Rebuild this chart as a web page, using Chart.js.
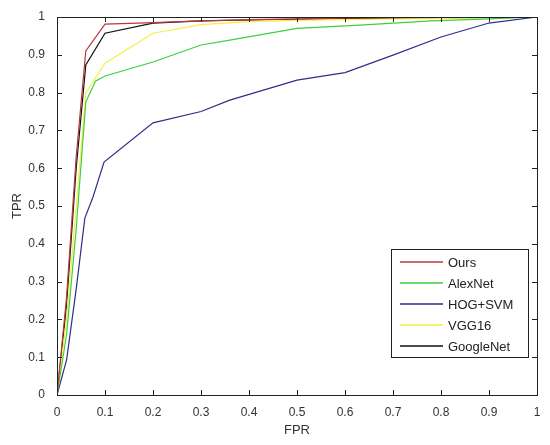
<!DOCTYPE html>
<html>
<head>
<meta charset="utf-8">
<script src="https://cdn.jsdelivr.net/npm/chart.js@4/dist/chart.umd.min.js"></script>
<style>
  html, body { margin: 0; padding: 0; background: #fff; }
  #wrap { width: 550px; height: 445px; position: relative; }
</style>
</head>
<body>
<div id="wrap"><canvas id="roc"></canvas></div>
<script>
// ROC curves (FPR, TPR)
const seriesNames = ['Ours', 'AlexNet', 'HOG+SVM', 'VGG16', 'GoogleNet'];
const seriesColors = ['#b8383c', '#3fcf3f', '#2e2e8c', '#f2f044', '#111111'];

const fprOurs = [0, 0.02, 0.04, 0.06, 0.1, 0.2, 0.3, 0.4, 0.5, 0.6, 0.7, 0.8, 0.9, 1];
const tprOurs = [0, 0.26, 0.63, 0.91, 0.981, 0.985, 0.99, 0.993, 0.995, 0.997, 0.998, 0.999, 0.999, 1];

const fprAlex = [0, 0.02, 0.04, 0.06, 0.08, 0.1, 0.2, 0.3, 0.36, 0.5, 0.64, 0.78, 0.9, 1];
const tprAlex = [0, 0.16, 0.44, 0.775, 0.83, 0.844, 0.881, 0.926, 0.939, 0.97, 0.979, 0.99, 0.995, 1];

const fprHog = [0, 0.02, 0.04, 0.058, 0.075, 0.098, 0.2, 0.3, 0.36, 0.5, 0.6, 0.7, 0.8, 0.9, 1];
const tprHog = [0, 0.093, 0.28, 0.468, 0.524, 0.616, 0.72, 0.75, 0.78, 0.833, 0.853, 0.899, 0.947, 0.984, 1];

const fprVgg = [0, 0.02, 0.04, 0.06, 0.1, 0.2, 0.3, 0.4, 0.5, 0.6, 0.7, 0.8, 0.9, 1];
const tprVgg = [0, 0.2, 0.5, 0.8, 0.878, 0.957, 0.98, 0.988, 0.991, 0.993, 0.995, 0.996, 0.998, 1];

const fprGoogle = [0, 0.02, 0.04, 0.06, 0.1, 0.2, 0.3, 0.4, 0.5, 0.6, 0.7, 0.8, 0.9, 1];
const tprGoogle = [0, 0.24, 0.6, 0.873, 0.957, 0.984, 0.99, 0.992, 0.994, 0.996, 0.997, 0.998, 0.999, 1];

const xTicks = [0, 0.1, 0.2, 0.3, 0.4, 0.5, 0.6, 0.7, 0.8, 0.9, 1];
const yTicks = [0, 0.1, 0.2, 0.3, 0.4, 0.5, 0.6, 0.7, 0.8, 0.9, 1];

const allFpr = [fprOurs, fprAlex, fprHog, fprVgg, fprGoogle];
const allTpr = [tprOurs, tprAlex, tprHog, tprVgg, tprGoogle];

function pts(xs, ys) {
  return xs.map((x, i) => ({x: x, y: ys[i]}));
}

const FONT = '"Liberation Sans", Arial, sans-serif';

// matlab-ish box with inward ticks, axis titles and legend
const matlabAxes = {
  id: 'matlabAxes',
  afterDatasetsDraw(chart) {
    const c = chart.ctx;
    const a = chart.chartArea;
    const xs = chart.scales.x, ys = chart.scales.y;
    c.save();
    c.strokeStyle = '#222';
    c.lineWidth = 1;
    c.strokeRect(Math.round(a.left) + 0.5, Math.round(a.top) + 0.5,
                 Math.round(a.right - a.left), Math.round(a.bottom - a.top));
    c.beginPath();
    for (const t of xTicks) {
      const px = Math.round(xs.getPixelForValue(t)) + 0.5;
      c.moveTo(px, a.bottom); c.lineTo(px, a.bottom - 5);
      c.moveTo(px, a.top); c.lineTo(px, a.top + 5);
    }
    for (const t of yTicks) {
      const py = Math.round(ys.getPixelForValue(t)) + 0.5;
      c.moveTo(a.left, py); c.lineTo(a.left + 5, py);
      c.moveTo(a.right, py); c.lineTo(a.right - 5, py);
    }
    c.stroke();

    // axis titles
    c.fillStyle = '#333';
    c.font = '13px ' + FONT;
    c.textAlign = 'center';
    c.textBaseline = 'middle';
    c.fillText('FPR', (a.left + a.right) / 2, 430);
    c.save();
    c.translate(17, (a.top + a.bottom) / 2);
    c.rotate(-Math.PI / 2);
    c.fillText('TPR', 0, 0);
    c.restore();

    // legend box
    const lx = 391, ly = 249, lw = 137, lh = 108;
    c.fillStyle = '#fff';
    c.fillRect(lx, ly, lw, lh);
    c.strokeStyle = '#222';
    c.strokeRect(lx + 0.5, ly + 0.5, lw, lh);
    c.font = '13px ' + FONT;
    c.textAlign = 'left';
    seriesNames.forEach((name, i) => {
      const y = 262 + i * 21;
      c.strokeStyle = seriesColors[i];
      c.lineWidth = 1.5;
      c.beginPath();
      c.moveTo(400, y); c.lineTo(443, y);
      c.stroke();
      c.fillStyle = '#222';
      c.fillText(name, 448, y + 1);
    });
    c.restore();
  }
};

new Chart(document.getElementById('roc'), {
  type: 'line',
  data: {
    datasets: seriesNames.map((name, i) => ({
      label: name,
      data: pts(allFpr[i], allTpr[i]),
      borderColor: seriesColors[i],
      borderWidth: 1.2,
      pointRadius: 0,
      tension: 0,
      fill: false
    }))
  },
  options: {
    responsive: true,
    maintainAspectRatio: false,
    animation: false,
    layout: { padding: { top: 17, right: 13, left: 0, bottom: 0 } },
    plugins: { legend: { display: false }, tooltip: { enabled: false } },
    scales: {
      x: {
        type: 'linear', min: 0, max: 1,
        afterBuildTicks: s => { s.ticks = xTicks.map(v => ({value: v})); },
        afterFit: s => { s.height = 50; },
        grid: { display: false },
        border: { display: false },
        ticks: {
          color: '#333', font: { family: FONT, size: 12 }, padding: 2,
          maxRotation: 0, autoSkip: false,
          callback: v => String(v)
        }
      },
      y: {
        type: 'linear', min: 0, max: 1,
        afterBuildTicks: s => { s.ticks = yTicks.map(v => ({value: v})); },
        afterFit: s => { s.width = 57; },
        grid: { display: false },
        border: { display: false },
        ticks: {
          color: '#333', font: { family: FONT, size: 12 }, padding: 4,
          autoSkip: false,
          callback: v => String(v)
        }
      }
    }
  },
  plugins: [matlabAxes]
});
</script>
</body>
</html>
